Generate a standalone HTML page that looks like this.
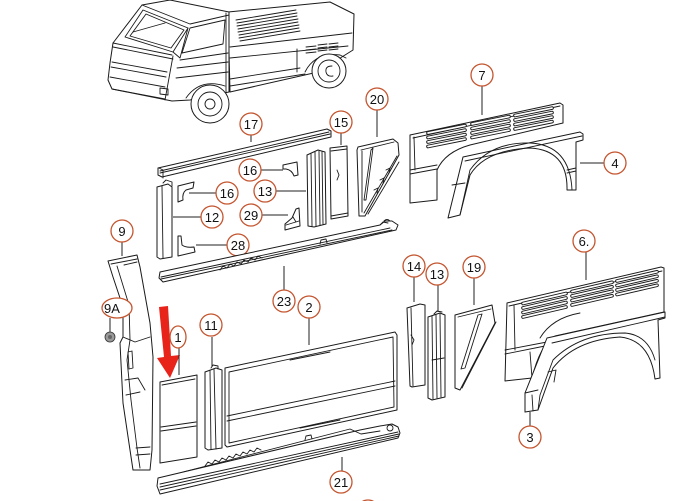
<!DOCTYPE html>
<html><head><meta charset="utf-8"><style>
html,body{margin:0;padding:0;background:#fff;}
svg{display:block;}
text{font-family:"Liberation Sans",sans-serif;font-size:13px;fill:#111;text-anchor:middle;}
.p{fill:#fff;stroke:#1a1a1a;stroke-width:1;stroke-linejoin:round;}
.l{fill:none;stroke:#1a1a1a;stroke-width:0.9;stroke-linejoin:round;stroke-linecap:round;}
.c{fill:#fff;stroke:#c4552f;stroke-width:1.3;}
.ld{fill:none;stroke:#222;stroke-width:1;}
.so{fill:none;stroke:#1a1a1a;stroke-width:3.6;stroke-linecap:round;}
.si{fill:none;stroke:#fff;stroke-width:1.7;stroke-linecap:round;}
</style></head><body>
<svg width="687" height="501" viewBox="0 0 687 501" xmlns="http://www.w3.org/2000/svg">
<!-- TRUCK -->
<g>
<!-- bed -->
<path class="p" d="M228,12 L330,2 L354,14 L353,50 L318,72 L230,92 Z"/>
<path class="l" d="M230,47 L352,33 M230,58 L348,46"/>
<path class="l" d="M236,20 L296,10 M237,23 L297,13 M237,26 L297,16 M238,29 L298,19 M238,32 L298,22 M239,35 L299,25 M239,38 L299,28 M240,41 L300,31"/>
<path class="l" d="M230,79 L300,68 M230,86 L305,74 M297,49 L297,72"/>
<path class="l" d="M306,47 L316,46 M306,50 L316,49 M306,53 L316,52 M318,45 L327,44 M318,48 L327,47 M318,51 L327,50 M329,44 L338,43 M329,47 L338,46 M329,50 L338,49"/>
<path class="l" d="M305,72 Q315,52 340,55 L346,58"/>
<circle class="p" cx="329" cy="71" r="17"/>
<circle class="l" cx="329" cy="71" r="11"/>
<path class="l" d="M332,66 Q325,66 326,72 Q327,77 333,76"/>
<!-- cab -->
<path class="p" d="M142,5 L170,0 L229,12 L229,92 L190,100 L172,101 L112,89 L108,80 L110,63 L113,43 Z"/>
<path class="l" d="M142,5 L190,24 L229,15"/>
<path class="l" d="M143,10 L188,28 L173,52 L125,37 Z M146,14 L184,30 L171,48 L130,36 Z"/>
<path class="l" d="M133,32 L165,23"/>
<path class="l" d="M190,28 L225,20 L223,44 L182,53 Z"/>
<path class="l" d="M188,28 L180,58 L173,52"/>
<path class="l" d="M113,43 L172,55 M113,47 L173,59"/>
<path class="l" d="M112,62 L167,72 M111,67 L166,77 M110,77 L165,87 M112,89 L165,99"/>
<path class="l" d="M173,56 L165,100"/>
<path class="l" d="M180,60 L228,53 M177,68 L228,62 M176,78 L228,72"/>
<path class="l" d="M226,13 L226,92"/>
<path class="l" d="M160,88 L168,89 L168,95 L160,94 Z"/>
<path class="l" d="M186,98 Q200,78 225,86"/>
<circle class="p" cx="210" cy="104" r="19"/>
<circle class="l" cx="210" cy="104" r="12"/>
<circle class="l" cx="210" cy="104" r="5"/>
</g>

<!-- PART 17 rail -->
<path class="p" d="M158,168 L327,129 L331,131 L331,137 L162,177 L158,175 Z"/>
<path class="l" d="M160,171 L329,132 M160,173 L330,134 M159,168 L163,170 L163,178"/>
<line class="ld" x1="251" y1="135" x2="251" y2="142"/>
<circle class="c" cx="251" cy="124" r="11"/><text x="251" y="129">17</text>

<!-- PART 12 column -->
<path class="p" d="M157,187 L168,184 L172,187 L172,257 L160,259 L157,257 Z"/>
<path class="l" d="M162,186 L163,258 M163,183 L166,180 L172,182 L172,186"/>
<line class="ld" x1="173" y1="217" x2="201" y2="217"/>
<circle class="c" cx="212" cy="217" r="11"/><text x="212" y="222">12</text>

<!-- PART 16 left -->
<path class="p" d="M178,186 L194,182 L193,188 L186,190 Q182,193 183,200 L178,202 Z"/>
<line class="ld" x1="189" y1="193" x2="216" y2="193"/>
<circle class="c" cx="227" cy="193" r="11"/><text x="227" y="198">16</text>

<!-- PART 16 upper -->
<path class="p" d="M283,165 L297,162 L298,175 L294,176 Q292,170 286,169 L283,169 Z"/>
<line class="ld" x1="261" y1="170" x2="283" y2="170"/>
<circle class="c" cx="250" cy="170" r="11"/><text x="250" y="175">16</text>

<!-- PART 13 upper -->
<path class="p" d="M307,155 L318,150 L325,152 L326,224 L314,227 L308,226 Z"/>
<path class="l" d="M311,154 L312,226 M315,152 L316,226 M319,151 L320,225 M322,152 L323,224"/>
<line class="ld" x1="276" y1="191" x2="306" y2="191"/>
<circle class="c" cx="265" cy="191" r="11"/><text x="265" y="196">13</text>

<!-- PART 15 -->
<path class="p" d="M330,148 L347,146 L348,216 L331,219 Z"/>
<path class="l" d="M331,151 L347,149 M331,216 L348,213 M337,170 L339,175 L337,180"/>
<line class="ld" x1="341" y1="133" x2="341" y2="145"/>
<circle class="c" cx="341" cy="122" r="11"/><text x="341" y="127">15</text>

<!-- PART 20 -->
<path class="p" d="M358,147 L393,139 L398,143 L399,155 L365,216 L359,216 L357,150 Z"/>
<path class="l" d="M361,150 L394,142 M362,151 L362,212 M371,150 L373,148 L366,200 L364,200 Z M397,156 L364,213 M399,162 L368,214"/>
<path class="l" d="M380,180 L384,178 L383,183 M374,190 L378,188 L377,193 M386,170 L390,168 L389,173"/>
<line class="ld" x1="377" y1="110" x2="377" y2="137"/>
<circle class="c" cx="377" cy="99" r="11"/><text x="377" y="104">20</text>

<!-- PART 29 -->
<path class="p" d="M285,224 L292,218 L296,209 L299,208 L300,226 L285,230 Z"/>
<path class="l" d="M286,225 L299,221 M293,217 L296,222"/>
<line class="ld" x1="262" y1="215" x2="288" y2="215"/>
<circle class="c" cx="251" cy="215" r="11"/><text x="251" y="220">29</text>

<!-- PART 28 -->
<path class="p" d="M178,236 L181,236 L182,245 Q186,248 194,247 L195,252 L178,256 Z"/>
<line class="ld" x1="196" y1="245" x2="227" y2="245"/>
<circle class="c" cx="238" cy="245" r="11"/><text x="238" y="250">28</text>

<!-- PART 23 sill -->
<path class="p" d="M160,272 L380,225 L385,221 L392,221 L398,225 L396,230 L163,282 L159,278 Z"/>
<path class="l" d="M161,277 L390,228 M161,279 L392,230"/>
<path class="l" d="M220,270 L223,266 L227,268 L230,264 L234,266 L237,262 L241,264 L244,260 L248,262 L251,258 L255,260 L258,256 L262,258"/>
<path class="l" d="M320,244 L321,240 L326,239 L327,243 M380,225 L383,222 L388,223"/>
<path class="l" d="M384,221 Q387,218 390,221"/>
<line class="ld" x1="284" y1="266" x2="284" y2="290"/>
<circle class="c" cx="284" cy="301" r="11"/><text x="284" y="306">23</text>

<!-- PART 9 B-pillar -->
<path class="p" d="M108,261 L137,255 L140,267 L150,323 L153,357 L152,450 L150,470 L133,470 L130,450 L123,403 L120,343 L123,337 L123,307 L113,277 Z"/>
<path class="l" d="M111,264 L137,259 M117,266 L129,305 L130,340 L127,360 L131,400 L137,448 L140,468 M124,265 L137,262"/>
<path class="l" d="M128,352 L132,351 L133,368 L129,369 Z M123,337 L135,342 L150,337 M136,448 L150,447 M136,455 L150,454"/>
<path class="l" d="M125,380 L138,378 L145,390 M126,395 L140,392"/>
<line class="ld" x1="122" y1="242" x2="122" y2="256"/>
<circle class="c" cx="122" cy="231" r="11"/><text x="122" y="236">9</text>

<!-- 9A + nut -->
<line class="ld" x1="110" y1="318" x2="110" y2="332"/>
<ellipse class="c" cx="117" cy="308" rx="15" ry="10"/><text x="112" y="313">9A</text>
<circle cx="110" cy="337" r="5" fill="#9a9a9a" stroke="#333" stroke-width="0.8"/>
<circle cx="110" cy="337" r="2" fill="#666"/>

<!-- RED ARROW -->
<path d="M159,307 L168,306 L171,356 L180,355 L170,378 L157,358 L164,357 Z" fill="#e8231a"/>

<!-- PART 1 -->
<path class="p" d="M160,382 L197,375 L197,457 L160,463 Z"/>
<path class="l" d="M162,385 L195,379 M161,427 L196,422 M161,431 L196,426"/>
<line class="ld" x1="179" y1="347" x2="179" y2="375"/>
<ellipse class="c" cx="178" cy="337" rx="8" ry="11"/><text x="178" y="342">1</text>

<!-- PART 11 -->
<path class="p" d="M205,372 L216,368 L222,370 L222,448 L208,450 L205,448 Z"/>
<path class="l" d="M210,371 L211,449 M214,369 L216,449 M211,368 L213,365 L218,366 L218,369"/>
<line class="ld" x1="212" y1="337" x2="212" y2="367"/>
<circle class="c" cx="211" cy="325" r="11"/><text x="211" y="330">11</text>

<!-- PART 2 -->
<path class="p" d="M225,368 L395,332 L397,335 L397,410 L227,447 L225,445 Z"/>
<path class="l" d="M229,372 L393,337 L394,407 L229,443 Z M227,416 L395,381 M227,421 L395,386"/>
<path class="l" d="M290,360 L330,352 M300,428 L340,420"/>
<line class="ld" x1="309" y1="318" x2="309" y2="345"/>
<circle class="c" cx="309" cy="307" r="11"/><text x="309" y="312">2</text>

<!-- PART 21 sill -->
<path class="p" d="M158,478 L360,430 L380,426 L392,424 L398,427 L400,433 L398,438 L160,494 L157,486 Z"/>
<path class="l" d="M160,484 L398,432 M160,487 L399,434 M160,490 L399,436"/>
<path class="l" d="M183,472 L350,429 L361,434 L380,431"/>
<path class="l" d="M205,466 L208,462 L212,464 L215,460 L219,462 L222,458 L226,460 L229,456 L233,458 L236,454 L240,456 L243,452 L247,454 L250,450 L254,452 L257,448 L261,450"/>
<path class="l" d="M305,440 L306,436 L311,435 L312,439"/>
<circle class="l" cx="390" cy="428" r="3"/>
<line class="ld" x1="342" y1="457" x2="342" y2="471"/>
<circle class="c" cx="341" cy="482" r="11"/><text x="341" y="487">21</text>
<circle class="c" cx="368" cy="511" r="11"/>

<!-- PART 14 -->
<path class="p" d="M407,308 L420,304 L425,305 L425,385 L412,387 L410,386 Z"/>
<path class="l" d="M411,308 L413,386 M411,335 L414,340 L412,345"/>
<line class="ld" x1="414" y1="277" x2="414" y2="302"/>
<circle class="c" cx="414" cy="266" r="11"/><text x="414" y="271">14</text>

<!-- PART 13 lower -->
<path class="p" d="M428,317 L440,313 L445,315 L445,397 L432,400 L428,398 Z"/>
<path class="l" d="M432,316 L433,399 M436,315 L437,398 M440,314 L441,397 M434,314 L437,311 L442,312 M432,360 L444,358"/>
<line class="ld" x1="438" y1="285" x2="438" y2="312"/>
<circle class="c" cx="437" cy="274" r="11"/><text x="437" y="279">13</text>

<!-- PART 19 -->
<path class="p" d="M455,315 L492,305 L495,323 L460,390 L455,388 Z"/>
<path class="l" d="M458,317 L491,309 M478,315 L482,314 L465,368 L461,369 Z M496,322 L462,388"/>
<line class="ld" x1="474" y1="278" x2="474" y2="305"/>
<circle class="c" cx="474" cy="267" r="11"/><text x="474" y="272">19</text>

<!-- PART 6 -->
<path class="p" d="M507,303 L661,267 L664,268 L664,312 L555,336 Q540,345 532,378 L505,381 Z"/>
<path class="l" d="M509,306 L662,271 M514,305 L515,350 M505,350 L547,342 M505,354 L545,346 M530,352 L532,378"/>
<path class="l" d="M540,338 Q552,318 580,313"/>
<g>
<path class="so" d="M523,303.5 L566,293.5 M523,308 L566,298 M523,312.5 L566,302.5 M523,317 L566,307"/>
<path class="si" d="M523,303.5 L566,293.5 M523,308 L566,298 M523,312.5 L566,302.5 M523,317 L566,307"/>
<path class="so" d="M572,291.5 L612,282.3 M572,296 L612,286.8 M572,300.5 L612,291.3 M572,305 L612,295.8"/>
<path class="si" d="M572,291.5 L612,282.3 M572,296 L612,286.8 M572,300.5 L612,291.3 M572,305 L612,295.8"/>
<path class="so" d="M617,281 L657,271.8 M617,285.5 L657,276.3 M617,290 L657,280.8 M617,294.5 L657,285.3"/>
<path class="si" d="M617,281 L657,271.8 M617,285.5 L657,276.3 M617,290 L657,280.8 M617,294.5 L657,285.3"/>
</g>
<line class="ld" x1="586" y1="252" x2="586" y2="280"/>
<circle class="c" cx="584" cy="241" r="11"/><text x="584" y="246">6.</text>

<!-- PART 3 arch -->
<path class="p" d="M547,338 L665,312 L665,318 L658,320 L660,378 L655,379 Q650,340 620,337 Q575,340 553,368 L538,410 L525,412 L525,393 Z"/>
<path class="l" d="M552,343 L665,317 M538,410 L540,395 L553,360 Q580,333 625,333 Q648,335 655,360"/>
<path class="l" d="M525,393 L538,390 M548,372 L556,370 L554,382 M532,395 L533,411"/>
<line class="ld" x1="530" y1="412" x2="530" y2="426"/>
<circle class="c" cx="530" cy="437" r="11"/><text x="530" y="442">3</text>

<!-- PART 7 -->
<path class="p" d="M410,135 L560,103 L563,105 L563,123 L470,145 Q445,152 437,170 L437,200 L410,203 Z"/>
<path class="l" d="M413,138 L560,106 M414,137 L415,170 M410,170 L437,165 M410,174 L437,169"/>
<g>
<path class="so" d="M428,133 L465,125.6 M428,137.5 L465,130.1 M428,142 L465,134.6 M428,146.5 L465,139.1"/>
<path class="si" d="M428,133 L465,125.6 M428,137.5 L465,130.1 M428,142 L465,134.6 M428,146.5 L465,139.1"/>
<path class="so" d="M472,124 L509,116.6 M472,128.5 L509,121.1 M472,133 L509,125.6 M472,137.5 L509,130.1"/>
<path class="si" d="M472,124 L509,116.6 M472,128.5 L509,121.1 M472,133 L509,125.6 M472,137.5 L509,130.1"/>
<path class="so" d="M515,115.5 L552,108.1 M515,120 L552,112.6 M515,124.5 L552,117.1 M515,129 L552,121.6"/>
<path class="si" d="M515,115.5 L552,108.1 M515,120 L552,112.6 M515,124.5 L552,117.1 M515,129 L552,121.6"/>
</g>
<line class="ld" x1="482" y1="86" x2="482" y2="115"/>
<circle class="c" cx="482" cy="75" r="11"/><text x="482" y="80">7</text>

<!-- PART 4 -->
<path class="p" d="M463,157 L580,132 L583,134 L583,140 L576,142 L576,190 L567,190 Q568,150 530,148 Q485,150 470,175 L460,215 L448,218 Z"/>
<path class="l" d="M465,161 L582,136 M460,215 L470,170 Q490,142 530,143 Q570,145 572,190 M567,170 L576,168 M567,173 L576,171 M452,185 L465,183"/>
<line class="ld" x1="580" y1="163" x2="604" y2="163"/>
<circle class="c" cx="615" cy="163" r="11"/><text x="615" y="168">4</text>
</svg>
</body></html>
